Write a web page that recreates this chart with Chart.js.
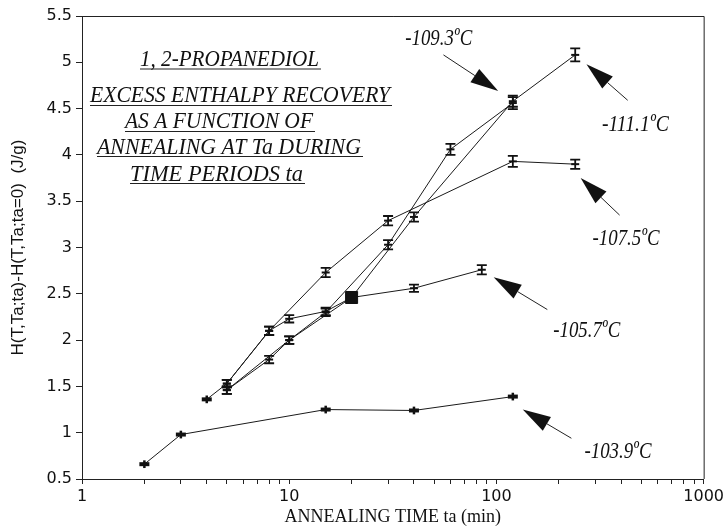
<!DOCTYPE html>
<html>
<head>
<meta charset="utf-8">
<script src="https://cdn.jsdelivr.net/npm/chart.js@4.4.0/dist/chart.umd.min.js"></script>
<style>
  html, body { margin: 0; padding: 0; background: #fff; }
</style>
</head>
<body>
<canvas id="chart" width="727" height="532"></canvas>
<script>
// -----------------------------
// Data
// -----------------------------
const xLabels = [1, 10, 100, 1000];
const xTickValues = [1,2,3,4,5,6,7,8,9,10,20,30,40,50,60,70,80,90,100,200,300,400,500,600,700,800,900,1000];

const t1039 = [2, 3, 15, 40, 120];
const h1039 = [0.66, 0.98, 1.25, 1.24, 1.39];
const e1039 = [0.02, 0.02, 0.02, 0.02, 0.02];

const t1057 = [4, 5, 8, 10, 15, 20, 40, 85];
const h1057 = [1.36, 1.53, 2.10, 2.23, 2.31, 2.46, 2.56, 2.76];
const e1057 = [0.02, 0.04, 0.045, 0.04, 0.04, 0, 0.04, 0.05];

const t1075 = [5, 8, 15, 30, 120, 240];
const h1075 = [1.53, 2.10, 2.73, 3.29, 3.93, 3.90];
const e1075 = [0.04, 0.045, 0.05, 0.05, 0.06, 0.05];

const t1093 = [5, 8, 10, 15, 30, 60, 120];
const h1093 = [1.46, 1.79, 2.00, 2.30, 3.03, 4.06, 4.56];
const e1093 = [0.04, 0.04, 0.04, 0.04, 0.05, 0.06, 0.065];

const t1111 = [5, 10, 20, 40, 120, 240];
const h1111 = [1.46, 2.00, 2.46, 3.33, 4.58, 5.08];
const e1111 = [0.04, 0.04, 0, 0.05, 0.06, 0.07];

// annotation labels and arrows, in data units (ta, H)
const tempLabels = ["-109.3ºC", "-111.1ºC", "-107.5ºC", "-105.7ºC", "-103.9ºC"];
const labelAt = [[36.3, 5.19], [323, 4.26], [291, 3.03], [188, 2.03], [266, 0.73]];
const arrowTail = [[55.5, 5.08], [430, 4.59], [393, 3.35], [176, 2.33], [230, 0.94]];
const arrowTip = [[102, 4.69], [272, 4.98], [255, 3.75], [97, 2.68], [134, 1.25]];

const titleLines = ["1, 2-PROPANEDIOL", "EXCESS ENTHALPY RECOVERY", "AS A FUNCTION OF", "ANNEALING AT Ta DURING", "TIME PERIODS ta"];

const pts = (t, h) => t.map((v, i) => ({ x: v, y: h[i] }));

function series(t, h, e, extra) {
  return Object.assign({
    data: pts(t, h),
    errors: e,
    showLine: true,
    borderColor: "#1a1a1a",
    borderWidth: 1,
    pointRadius: 0,
    tension: 0
  }, extra || {});
}

// -----------------------------
// Plugins
// -----------------------------
const errorBars = {
  id: "errorBars",
  afterDatasetsDraw(chart) {
    const ctx = chart.ctx, y = chart.scales.y;
    chart.data.datasets.forEach((ds, i) => {
      const meta = chart.getDatasetMeta(i);
      meta.data.forEach((pt, j) => {
        const e = ds.errors[j];
        if (!e) return;
        const v = ds.data[j].y;
        const top = y.getPixelForValue(v + e), bot = y.getPixelForValue(v - e);
        const small = e < 0.03;
        ctx.save();
        ctx.strokeStyle = "#111";
        ctx.lineWidth = small ? 2.5 : 1.8;
        ctx.beginPath();
        ctx.moveTo(pt.x, top - (small ? 2 : 0)); ctx.lineTo(pt.x, bot + (small ? 2 : 0));
        if (!small) {
          ctx.moveTo(pt.x - 5, top); ctx.lineTo(pt.x + 5, top);
          ctx.moveTo(pt.x - 5, bot); ctx.lineTo(pt.x + 5, bot);
        }
        ctx.stroke();
        ctx.lineWidth = small ? 4 : 2;
        ctx.beginPath();
        ctx.moveTo(pt.x - (small ? 5 : 4), pt.y); ctx.lineTo(pt.x + (small ? 5 : 4), pt.y);
        ctx.stroke();
        ctx.restore();
      });
    });
  }
};

function fitText(ctx, text, x, y, w) {
  const nat = ctx.measureText(text).width;
  ctx.save();
  ctx.translate(x, y);
  ctx.scale(w / nat, 1);
  ctx.fillText(text, 0, 0);
  ctx.restore();
}

const decorations = {
  id: "decorations",
  afterDraw(chart) {
    const ctx = chart.ctx, a = chart.chartArea;
    const xs = chart.scales.x, ys = chart.scales.y;
    ctx.save();
    // frame top / right
    ctx.strokeStyle = "#222";
    ctx.lineWidth = 1;
    ctx.beginPath();
    ctx.moveTo(a.left, a.top + 0.5); ctx.lineTo(a.right + 0.5, a.top + 0.5); ctx.lineTo(a.right + 0.5, a.bottom);
    ctx.stroke();

    // title block
    ctx.fillStyle = "#111";
    ctx.font = "italic 23px 'Liberation Serif'";
    ctx.textBaseline = "alphabetic";
    const tl = [[140, 321, 66, 69], [90, 392, 102, 105.5], [125, 315, 128, 131.5], [97, 363, 154, 156.5], [130, 305, 181, 183.5]];
    titleLines.forEach((s, i) => {
      const [x0, x1, yb, yu] = tl[i];
      fitText(ctx, s, x0, yb, x1 - x0 - 2);
      ctx.lineWidth = 1.2;
      ctx.beginPath(); ctx.moveTo(x0, yu); ctx.lineTo(x1, yu); ctx.stroke();
    });

    // temperature labels
    ctx.font = "italic 24px 'Liberation Serif'";
    tempLabels.forEach((s, i) => {
      const px = xs.getPixelForValue(labelAt[i][0]);
      const py = ys.getPixelForValue(labelAt[i][1]);
      fitText(ctx, s, px, py, 67);
    });

    // arrows
    arrowTail.forEach((tail, i) => {
      const x0 = xs.getPixelForValue(tail[0]), y0 = ys.getPixelForValue(tail[1]);
      const x1 = xs.getPixelForValue(arrowTip[i][0]), y1 = ys.getPixelForValue(arrowTip[i][1]);
      const ang = Math.atan2(y1 - y0, x1 - x0);
      const len = 28, hw = 8;
      const bx = x1 - len * Math.cos(ang), by = y1 - len * Math.sin(ang);
      ctx.lineWidth = 1;
      ctx.beginPath(); ctx.moveTo(x0, y0); ctx.lineTo(bx, by); ctx.stroke();
      ctx.beginPath();
      ctx.moveTo(x1, y1);
      ctx.lineTo(bx + hw * Math.sin(ang), by - hw * Math.cos(ang));
      ctx.lineTo(bx - hw * Math.sin(ang), by + hw * Math.cos(ang));
      ctx.closePath(); ctx.fill();
    });
    ctx.restore();
  }
};

// -----------------------------
// Chart
// -----------------------------
const ctx = document.getElementById("chart").getContext("2d");

new Chart(ctx, {
  type: "scatter",
  data: {
    datasets: [
      series(t1039, h1039, e1039),
      series(t1057, h1057, e1057, {
        pointRadius: t1057.map(v => v === 20 ? 8.5 : 0),
        pointStyle: "rect",
        pointBackgroundColor: "#111",
        pointBorderColor: "#111"
      }),
      series(t1075, h1075, e1075),
      series(t1093, h1093, e1093),
      series(t1111, h1111, e1111)
    ]
  },
  options: {
    responsive: false,
    animation: false,
    devicePixelRatio: 1,
    layout: { padding: { top: 16, right: 23, left: 0, bottom: 0 } },
    plugins: { legend: { display: false }, tooltip: { enabled: false } },
    scales: {
      x: {
        type: "logarithmic",
        min: 1,
        max: 1000,
        afterBuildTicks: axis => { axis.ticks = xTickValues.map(v => ({ value: v })); },
        afterFit: axis => { axis.height = 53; },
        ticks: {
          autoSkip: false,
          maxRotation: 0,
          padding: 3,
          color: "#111",
          font: { family: "DejaVu Sans", size: 16 },
          callback: v => xLabels.includes(v) ? String(v) : ""
        },
        grid: { drawOnChartArea: false, tickLength: 5, color: "#222" },
        border: { color: "#222", width: 1 },
        title: {
          display: true,
          text: "ANNEALING TIME ta (min)",
          color: "#111",
          font: { family: "Liberation Serif", size: 18 },
          padding: { top: 0, bottom: 4 }
        }
      },
      y: {
        min: 0.5,
        max: 5.5,
        afterFit: axis => { axis.width = 82; },
        ticks: {
          stepSize: 0.5,
          padding: 4,
          color: "#111",
          font: { family: "DejaVu Sans", size: 16 },
          callback: v => String(v)
        },
        grid: { drawOnChartArea: false, tickLength: 6, color: "#222" },
        border: { color: "#222", width: 1 },
        title: {
          display: true,
          text: "H(T,Ta;ta)-H(T,Ta;ta=0)  (J/g)",
          color: "#111",
          font: { family: "Liberation Sans", size: 17 },
          padding: { top: 8, bottom: 8 }
        }
      }
    }
  },
  plugins: [errorBars, decorations]
});
</script>
</body>
</html>
